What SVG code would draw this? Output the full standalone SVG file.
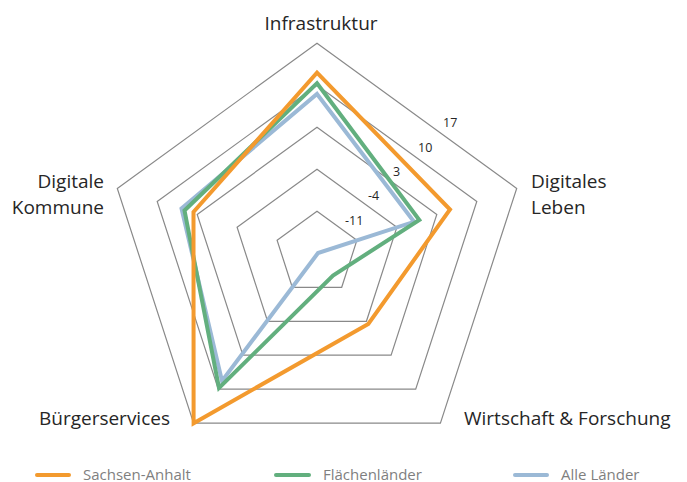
<svg xmlns="http://www.w3.org/2000/svg" width="687" height="482" viewBox="0 0 687 482">
  <style>
    .ring { fill: none; stroke: #898989; stroke-width: 1.2; }
    .series { fill: none; stroke-width: 4; stroke-linejoin: miter; stroke-miterlimit: 10; }
    .sa { stroke: #F39A2E; }
    .fl { stroke: #62AF7E; }
    .al { stroke: #9BB9D6; }
    .axis { font-family: "Open Sans", "Liberation Sans", sans-serif; font-size: 19px; fill: #262626; }
    .tick { font-family: "Open Sans", "Liberation Sans", sans-serif; font-size: 12.5px; fill: #262626; }
    .legend { font-family: "Open Sans", "Liberation Sans", sans-serif; font-size: 15px; fill: #7F7F7F; }
    .key { stroke-width: 4; stroke-linecap: round; }
  </style>
  <rect width="687" height="482" fill="#FFFFFF"/>

  <!-- grid rings: -11, -4, 3, 10, 17 -->
  <g id="grid">
    <polygon class="ring" points="317,43.3 516.7,188.4 440.4,423.2 193.6,423.2 117.3,188.4"/>
    <polygon class="ring" points="317,85.3 476.8,201.4 415.7,389.2 218.3,389.2 157.2,201.4"/>
    <polygon class="ring" points="317,127.3 436.8,214.4 391.1,355.2 242.9,355.2 197.2,214.4"/>
    <polygon class="ring" points="317,169.3 396.9,227.3 366.4,321.3 267.6,321.3 237.1,227.3"/>
    <polygon class="ring" points="317,211.3 356.9,240.3 341.7,287.3 292.3,287.3 277.1,240.3"/>
  </g>

  <g id="ticks">
    <text class="tick" x="443" y="127">17</text>
    <text class="tick" x="418" y="151.5">10</text>
    <text class="tick" x="393" y="175.5">3</text>
    <text class="tick" x="368" y="200">-4</text>
    <text class="tick" x="345" y="224.5">-11</text>
  </g>

  <!-- data series -->
  <g id="connectors">
    <polygon id="series-alle-laender" class="series al" points="317,94 414,221.8 318,253 222,381 181.5,208.5"/>
    <polygon id="series-flaechenlaender" class="series fl" points="317,83.3 419.3,220 333,275.5 219,388 184.5,210.5"/>
    <polygon id="series-sachsen-anhalt" class="series sa" points="317,72.7 450,209.5 368.3,323.9 193.6,423.2 193.5,212"/>
  </g>

  <!-- axis labels -->
  <g id="node-infrastruktur"><text class="axis" x="321" y="30" text-anchor="middle">Infrastruktur</text></g>
  <g id="node-digitales-leben">
    <text class="axis" x="531" y="188">Digitales</text>
    <text class="axis" x="531" y="213.5">Leben</text>
  </g>
  <g id="node-wirtschaft"><text class="axis" x="464" y="425">Wirtschaft &amp; Forschung</text></g>
  <g id="node-buergerservices"><text class="axis" x="170" y="425" text-anchor="end">Bürgerservices</text></g>
  <g id="node-digitale-kommune">
    <text class="axis" x="104" y="188" text-anchor="end">Digitale</text>
    <text class="axis" x="104" y="213.5" text-anchor="end">Kommune</text>
  </g>

  <!-- legend -->
  <g id="legend">
    <line class="key sa" x1="37" y1="475" x2="69" y2="475"/>
    <text class="legend" x="83" y="479.5">Sachsen-Anhalt</text>
    <line class="key fl" x1="276" y1="475" x2="309" y2="475"/>
    <text class="legend" x="323" y="479.5">Flächenländer</text>
    <line class="key al" x1="515" y1="475" x2="547" y2="475"/>
    <text class="legend" x="561" y="479.5">Alle Länder</text>
  </g>
</svg>
